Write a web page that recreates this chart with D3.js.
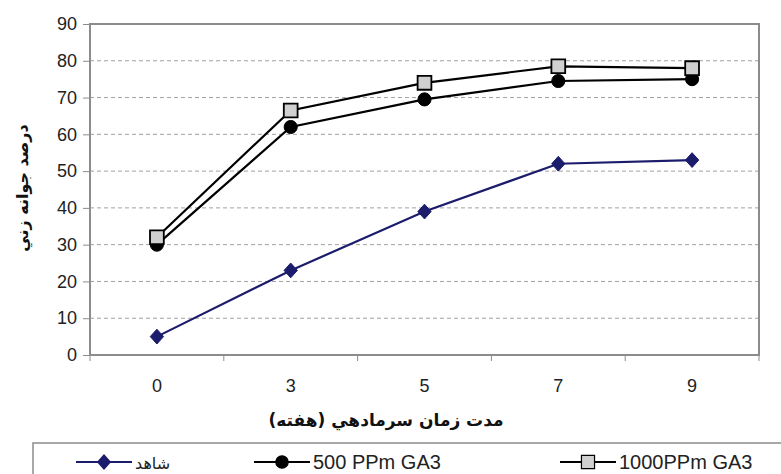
<!DOCTYPE html>
<html><head><meta charset="utf-8">
<script src="https://cdn.jsdelivr.net/npm/d3@7"></script>
<style>body{margin:0;background:#fff}svg{display:block}</style>
</head><body>
<svg id="c" width="781" height="474"></svg>
<script>
const categories = ["0","3","5","7","9"];
const control = [5, 23, 39, 52, 53];
const ga500 = [30, 62, 69.5, 74.5, 75];
const ga1000 = [32, 66.5, 74, 78.5, 78];
const yTicks = [0,10,20,30,40,50,60,70,80,90];
const seriesNames = ["شاهد", "500 PPm GA3", "1000PPm GA3"];
const yTitle = "درصد جوانه زني";
const xTitle = "مدت زمان سرمادهي (هفته)";

const svg = d3.select("#c");
const L = 90, R = 759, T = 24, B = 355;
const x = d3.scaleBand().domain(categories).range([L, R]);
const y = d3.scaleLinear().domain([0, 90]).range([B, T]);
const latin = "Liberation Sans, Arial, sans-serif";
const arab = "DejaVu Sans, sans-serif";

svg.append("rect").attr("x", L).attr("y", T).attr("width", R - L).attr("height", B - T).attr("fill", "#fff");

// gridlines
svg.append("g").selectAll("line").data(yTicks.filter(d => d > 0 && d < 90)).join("line")
  .attr("x1", L).attr("x2", R).attr("y1", d => y(d)).attr("y2", d => y(d))
  .attr("stroke", "#a0a0a0").attr("stroke-width", 1).attr("stroke-dasharray", "4,3");

// border
svg.append("rect").attr("x", L).attr("y", T).attr("width", R - L).attr("height", B - T)
  .attr("fill", "none").attr("stroke", "#8c8c8c").attr("stroke-width", 2);

// y axis
const yAxis = d3.axisLeft(y).tickValues(yTicks).tickSize(7).tickPadding(6);
const gy = svg.append("g").attr("transform", `translate(${L},0)`).call(yAxis);
gy.select(".domain").remove();
gy.selectAll(".tick line").attr("stroke", "#8c8c8c");
gy.selectAll(".tick text").attr("font-family", latin).attr("font-size", 18).attr("fill", "#222");

// x axis
const xAxis = d3.axisBottom(x).tickSize(0).tickPadding(24);
const gx = svg.append("g").attr("transform", `translate(0,${B})`).call(xAxis);
gx.select(".domain").remove();
gx.selectAll(".tick text").attr("font-family", latin).attr("font-size", 18).attr("fill", "#222");
const bounds = [L].concat(categories.slice(1).map(c => x(c)), [R]);
svg.append("g").selectAll("line").data(bounds).join("line")
  .attr("x1", d => d).attr("x2", d => d)
  .attr("y1", B).attr("y2", B + 6).attr("stroke", "#8c8c8c");

const cx = d => x(d) + x.bandwidth() / 2;
const line = d3.line().x((d, i) => cx(categories[i])).y(d => y(d));

const diamond = {draw(ctx, size) { const r = Math.sqrt(size) / 2 * 1.41; ctx.moveTo(0, -r); ctx.lineTo(r * 0.9, 0); ctx.lineTo(0, r); ctx.lineTo(-r * 0.9, 0); ctx.closePath(); }};
const series = [
  {vals: control, color: "#1c1c6c", sym: diamond, size: 110, fill: "#1c1c6c"},
  {vals: ga500, color: "#000", sym: d3.symbolCircle, size: 135, fill: "#000"},
  {vals: ga1000, color: "#000", sym: d3.symbolSquare, size: 190, fill: "#d0d0d0"}
];

series.forEach(s => {
  svg.append("path").datum(s.vals).attr("d", line).attr("fill", "none")
    .attr("stroke", s.color).attr("stroke-width", 2.2);
});
series.forEach(s => {
  svg.append("g").selectAll("path").data(s.vals).join("path")
    .attr("d", d3.symbol().type(s.sym).size(s.size))
    .attr("transform", (d, i) => `translate(${cx(categories[i])},${y(d)})`)
    .attr("fill", s.fill).attr("stroke", s.color).attr("stroke-width", s.sym === d3.symbolSquare ? 1.8 : 1);
});

// axis titles
svg.append("text").attr("transform", `translate(28,188) rotate(-90)`)
  .attr("text-anchor", "middle").attr("direction", "rtl")
  .attr("font-family", arab).attr("font-weight", "bold").attr("font-size", 16)
  .attr("fill", "#111").text(yTitle);
svg.append("text").attr("x", 386).attr("y", 426)
  .attr("text-anchor", "middle").attr("direction", "rtl")
  .attr("font-family", arab).attr("font-weight", "bold").attr("font-size", 17)
  .attr("fill", "#111").text(xTitle);

// legend
svg.append("rect").attr("x", 33).attr("y", 443).attr("width", 760).attr("height", 40)
  .attr("fill", "#fff").attr("stroke", "#8c8c8c").attr("stroke-width", 1.5);
const legendX = [76, 254, 560];
const lg = svg.append("g").selectAll("g").data(series).join("g")
  .attr("transform", (d, i) => `translate(${legendX[i]},462)`);
lg.append("line").attr("x1", 0).attr("x2", 56).attr("stroke", d => d.color).attr("stroke-width", 2.2);
lg.append("path").attr("d", d => d3.symbol().type(d.sym).size(d.size * 0.9)())
  .attr("transform", "translate(28,0)")
  .attr("fill", d => d.fill).attr("stroke", d => d.color).attr("stroke-width", 1.2);
lg.append("text").attr("x", 59).attr("y", 7)
  .attr("font-family", (d, i) => i === 0 ? arab : latin).attr("font-size", (d, i) => i === 0 ? 16 : 20).attr("fill", "#222")
  .text((d, i) => seriesNames[i]);
</script>
</body></html>
